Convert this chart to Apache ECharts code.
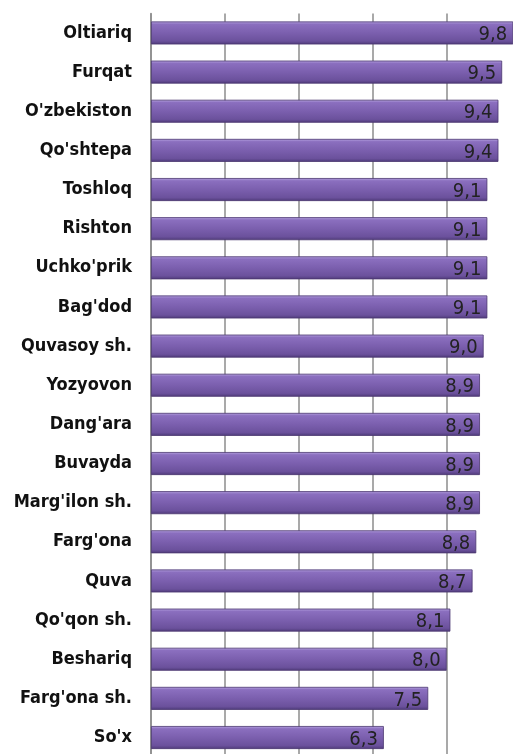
<!DOCTYPE html>
<html><head><meta charset="utf-8">
<script src="https://cdn.jsdelivr.net/npm/echarts@6/dist/echarts.min.js"></script>
<style>html,body{margin:0;padding:0;background:#fff;overflow:hidden;width:513px;height:754px}#c{width:530px;height:770px}</style>
</head><body><div id="c"></div>
<script>
const categories = ["Oltiariq","Furqat","O'zbekiston","Qo'shtepa","Toshloq","Rishton","Uchko'prik","Bag'dod","Quvasoy sh.","Yozyovon","Dang'ara","Buvayda","Marg'ilon sh.","Farg'ona","Quva","Qo'qon sh.","Beshariq","Farg'ona sh.","So'x"];
const values = [9.8,9.5,9.4,9.4,9.1,9.1,9.1,9.1,9.0,8.9,8.9,8.9,8.9,8.8,8.7,8.1,8.0,7.5,6.3];

const FONT = '"Liberation Sans Narrow","DejaVu Sans Condensed",sans-serif';
const chart = echarts.init(document.getElementById('c'), null, {renderer:'canvas'});
chart.setOption({
  animation:false,
  grid:{left:151,width:369.6,top:13.4,height:743.7,containLabel:false},
  xAxis:{type:'value',min:0,max:10,interval:2,
    axisLine:{show:false},axisTick:{show:false},axisLabel:{show:false},
    splitLine:{show:true,lineStyle:{color:'#8c8c8c',width:1.5}}},
  yAxis:{type:'category',inverse:true,data:categories,
    axisLine:{show:true,lineStyle:{color:'#8c8c8c',width:1.5}},
    axisTick:{show:false},
    axisLabel:{margin:19,color:'#111',fontFamily:FONT,fontWeight:'bold',fontSize:18}},
  series:[{type:'bar',data:values,barWidth:23,
    itemStyle:{borderColor:'#4a3670',borderWidth:0.8,
      color:new echarts.graphic.LinearGradient(0,0,0,1,[
        {offset:0,color:'#b9a7e3'},{offset:0.12,color:'#8b6fbf'},
        {offset:0.5,color:'#7b5fae'},{offset:0.85,color:'#6b519c'},{offset:1,color:'#4e3a78'}])},
    label:{show:true,position:'insideRight',offset:[0,2],distance:6,color:'#222',
      fontFamily:FONT,fontSize:20,
      formatter:p=>p.value.toFixed(1).replace('.',',')}
  }]
});
</script></body></html>
